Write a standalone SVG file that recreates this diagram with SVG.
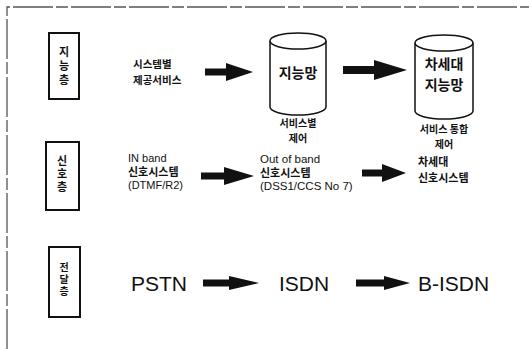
<svg xmlns="http://www.w3.org/2000/svg" width="529" height="349" viewBox="0 0 529 349">
<style>
.frame{fill:none;stroke:#555;stroke-width:1.3;stroke-dasharray:40 3 12 3}
.layer{fill:#fff;stroke:#111;stroke-width:2}
.cyl{fill:#fff;stroke:#111;stroke-width:1.5}
.ko{font-family:"Noto Sans CJK KR","Noto Sans",sans-serif;font-weight:700;fill:#111}
.vt{writing-mode:vertical-rl;text-orientation:upright;text-anchor:middle}
.en{font-family:"Liberation Sans",Arial,sans-serif;fill:#111}
.arrow{fill:#111}
</style>
<rect width="529" height="349" fill="#fff"/>
<path class="frame" d="M7,349 V7 H529"/>
<g id="layer-intelligent">
<rect class="layer" x="49" y="33" width="30" height="66"/>
<text class="ko vt" font-size="11" letter-spacing="3" x="64" y="67">지능층</text>
</g>
<g id="layer-signal">
<rect class="layer" x="46" y="142" width="33" height="68"/>
<text class="ko vt" font-size="11" letter-spacing="2" x="62" y="175">신호층</text>
</g>
<g id="layer-transport">
<rect class="layer" x="49" y="247" width="31" height="70"/>
<text class="ko vt" font-size="10" letter-spacing="2" x="64" y="280">전달층</text>
</g>
<g id="system-services">
<text class="ko" font-size="10.5"><tspan x="133" y="68">시스템별</tspan><tspan x="133" y="84">제공서비스</tspan></text>
</g>
<g id="in-network">
<path class="cyl" d="M270,41 V107 A28,8 0 0 0 326,107 V41"/>
<ellipse class="cyl" cx="298" cy="41" rx="28" ry="8"/>
<text class="ko" font-size="14" text-anchor="middle" x="298" y="78">지능망</text>
<text class="ko" font-size="10" text-anchor="middle"><tspan x="298" y="127">서비스별</tspan><tspan x="298" y="142">제어</tspan></text>
</g>
<g id="next-in">
<path class="cyl" d="M415,43 V111 A29,8 0 0 0 473,111 V43"/>
<ellipse class="cyl" cx="444" cy="43" rx="29" ry="8"/>
<text class="ko" font-size="14" text-anchor="middle"><tspan x="444" y="69">차세대</tspan><tspan x="444" y="90">지능망</tspan></text>
<text class="ko" font-size="10" text-anchor="middle"><tspan x="444" y="133">서비스 통합</tspan><tspan x="444" y="148">제어</tspan></text>
</g>
<g id="in-band">
<text class="en" font-size="11" x="128" y="162">IN band</text>
<text class="ko" font-size="11" x="128" y="176">신호시스템</text>
<text class="en" font-size="11" x="128" y="189">(DTMF/R2)</text>
</g>
<g id="out-band">
<text class="en" font-size="11.5" x="260" y="163">Out of band</text>
<text class="ko" font-size="11" x="260" y="177">신호시스템</text>
<text class="en" font-size="11.5" x="260" y="190">(DSS1/CCS No 7)</text>
</g>
<g id="next-signal">
<text class="ko" font-size="11"><tspan x="418" y="166">차세대</tspan><tspan x="418" y="182">신호시스템</tspan></text>
</g>
<g id="pstn"><text class="en" font-size="21" x="131" y="291">PSTN</text></g>
<g id="isdn"><text class="en" font-size="21" x="279" y="291">ISDN</text></g>
<g id="bisdn"><text class="en" font-size="21" x="418" y="291">B-ISDN</text></g>
<g id="connectors">
<polygon class="arrow" points="205,68.5 226,68.5 226,63 253,72 226,81 226,75.5 205,75.5"/>
<polygon class="arrow" points="343,66 374,66 374,60 407,70 374,80 374,74 343,74"/>
<polygon class="arrow" points="201,172.5 224,172.5 224,167 254,176 224,185 224,179.5 201,179.5"/>
<polygon class="arrow" points="362,169.5 382,169.5 382,164 406,173 382,182 382,176.5 362,176.5"/>
<polygon class="arrow" points="203,279.5 229,279.5 229,276 259,283 229,290 229,286.5 203,286.5"/>
<polygon class="arrow" points="356,279.5 384,279.5 384,276 410,283 384,290 384,286.5 356,286.5"/>
</g>
</svg>
